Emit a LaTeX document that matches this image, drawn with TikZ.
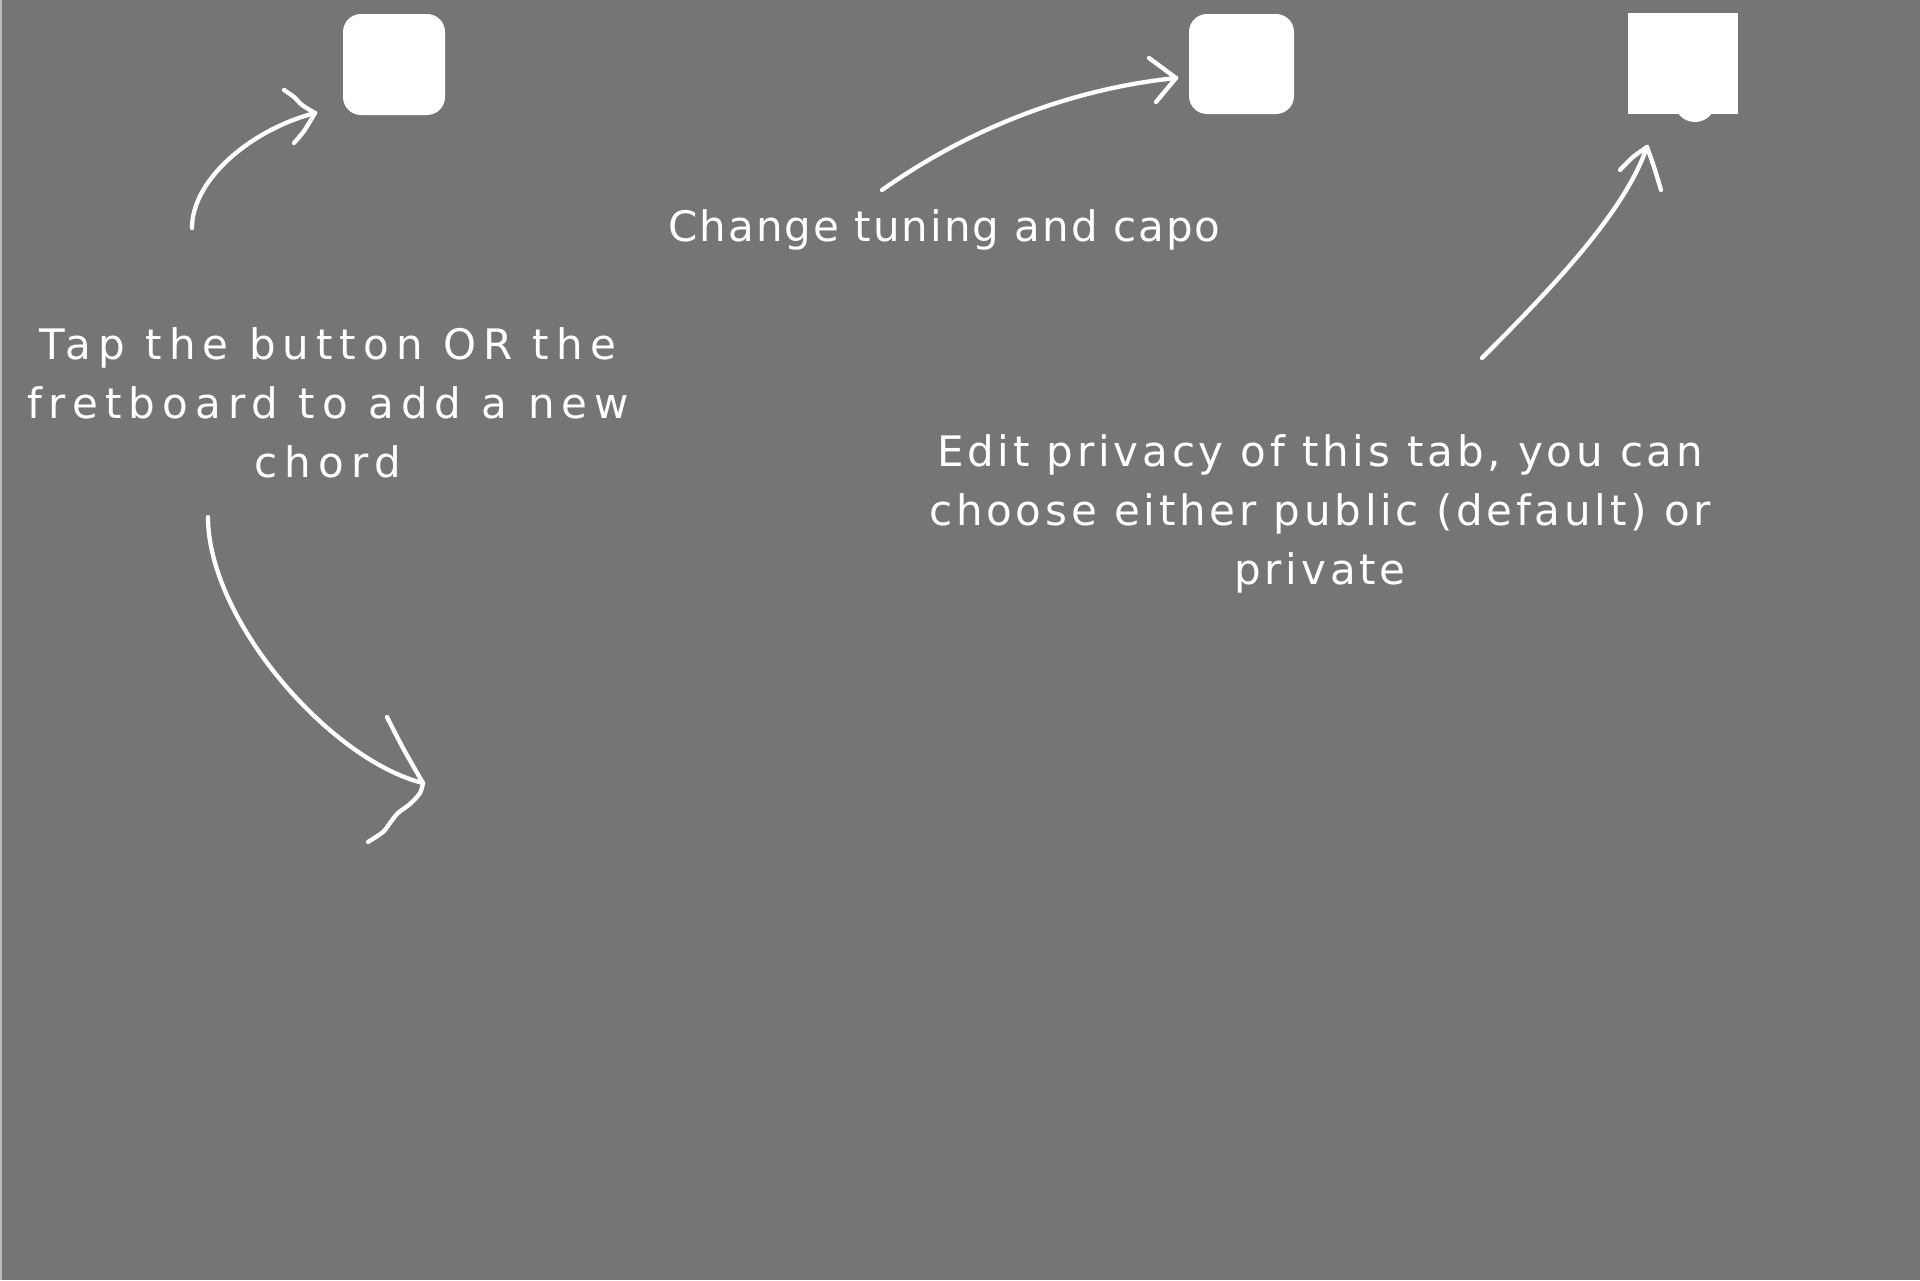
\documentclass[tikz,border=0pt]{standalone}
\usepackage{fontspec}
\setmainfont{DejaVu Sans}
\newfontfamily\wideA{DejaVu Sans}[LetterSpace=16.8]
\newfontfamily\wideB{DejaVu Sans}[LetterSpace=4.8]
\newfontfamily\wideC{DejaVu Sans}[LetterSpace=9]
\definecolor{bg}{RGB}{117,117,117}
\definecolor{edge}{RGB}{190,190,190}
\begin{document}
\begin{tikzpicture}[x=0.5pt,y=-0.5pt,
  hand/.style={draw=white, line width=2.15pt, line cap=round, line join=round},
  btn/.style={fill=white, draw=none, inner sep=0pt, outer sep=0pt},
  lbl/.style={text=white, align=center, inner sep=0pt}]
\useasboundingbox (0,0) rectangle (1920,1280);
\fill[bg] (0,0) rectangle (1920,1280);
\fill[edge] (0,0) rectangle (2,1280);
% buttons
\node[btn, rounded corners=9pt, minimum width=51pt, minimum height=50.5pt] (b1) at (394,64.5) {};
\node[btn, rounded corners=9pt, minimum width=52.5pt, minimum height=50pt] (b2) at (1241.5,64) {};
\node[btn, minimum width=55pt, minimum height=50.5pt] (b3) at (1683,63.5) {};
\fill[white] (1695,101) circle (10.5pt);
% labels
\node[lbl, font=\wideA\fontsize{21}{29.5}\selectfont] (t1) at (328,403) {Tap the button OR the\\fretboard to add a new\\chord};
\node[lbl, anchor=base, font=\wideB\fontsize{21}{29.5}\selectfont] (t2) at (944.5,241) {Change tuning and capo};
\node[lbl, font=\wideC\fontsize{21}{29.5}\selectfont] (t3) at (1320,514) {Edit privacy of this tab, you can\\choose either public (default) or\\private};
% arrow 1
\coordinate (a1s) at (192,228);
\coordinate (a1t) at (315,113);
\draw[hand] (a1s) .. controls (192,180) and (250,130) .. (a1t);
\draw[hand] plot[smooth] coordinates {(284,90) (294,97) (302,105) (a1t)};
\draw[hand] plot[smooth] coordinates {(294,143) (304,131) (a1t)};
% arrow 2
\coordinate (a2s) at (882,190);
\coordinate (a2t) at (1176,78);
\draw[hand] (a2s) .. controls (960,135) and (1060,90) .. (a2t);
\draw[hand] (1149,58) -- (a2t);
\draw[hand] (1156,102) -- (a2t);
% arrow 3
\coordinate (a3s) at (1482,358);
\coordinate (a3t) at (1647,147);
\draw[hand] (a3s) .. controls (1560,280) and (1625,210) .. (a3t);
\draw[hand] plot[smooth] coordinates {(1620,170) (1633,157) (a3t)};
\draw[hand] plot[smooth] coordinates {(1661,190) (1654,167) (a3t)};
% arrow 4
\coordinate (a4s) at (208,517);
\coordinate (a4t) at (423,783);
\draw[hand] (a4s) .. controls (208,620) and (330,760) .. (a4t);
\draw[hand] plot[smooth] coordinates {(387,717) (403,748) (a4t)};
\draw[hand] plot[smooth] coordinates {(a4t) (420,793) (410,804) (398,813) (390,823) (383,832) (368,842)};
\end{tikzpicture}
\end{document}
